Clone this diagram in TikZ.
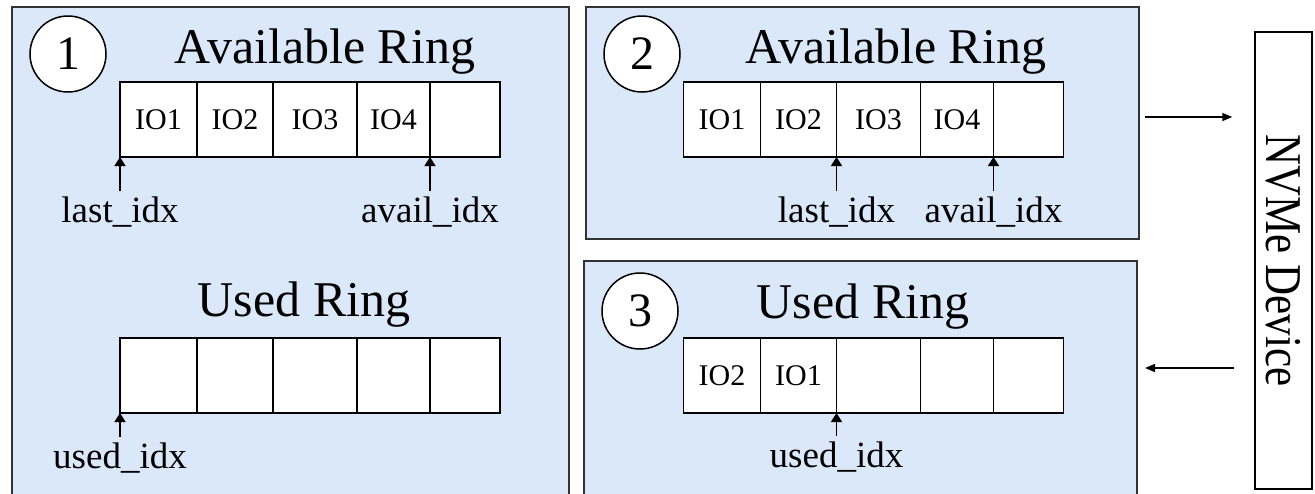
\documentclass[tikz,border=0pt]{standalone}
\usepackage{fontspec}
\setmainfont{Liberation Serif}
\usetikzlibrary{positioning,arrows.meta}
\definecolor{panelblue}{RGB}{218,232,250}
\tikzset{
  panel/.style={draw=black!80, line width=2pt, fill=panelblue, anchor=north west, inner sep=0pt, outer sep=0pt},
  cell/.style={draw, line width=1.5pt, fill=white, minimum height=75pt, inner sep=0pt, outer sep=0pt, font=\fontsize{30}{32}\selectfont},
  num/.style={draw, circle, line width=1.5pt, fill=white, minimum size=76pt, inner sep=0pt, font=\fontsize{48}{50}\selectfont},
  ttl/.style={anchor=base, inner sep=0pt, font=\fontsize{50}{52}\selectfont},
  idx/.style={anchor=base, inner sep=5pt, font=\fontsize{37}{40}\selectfont},
  dev/.style={draw, line width=1.5pt, fill=white, inner sep=0pt, font=\fontsize{43}{45}\selectfont},
  ptr/.style={-{Triangle[length=9pt,width=11pt]}, line width=1.5pt},
  flow/.style={-{Triangle[length=10pt,width=8pt]}, line width=1.5pt},
}
\begin{document}
\begin{tikzpicture}[x=1pt, y=-1pt]
  \useasboundingbox (0,0) rectangle (1315,493);
  \clip (0,0) rectangle (1315,493);
  \fill[white] (0,0) rectangle (1315,493);

  % panels
  \node[panel, minimum width=557pt, minimum height=540pt] (p1) at (12,7) {};
  \node[panel, minimum width=553pt, minimum height=232pt] (p2) at (586,7) {};
  \node[panel, minimum width=553pt, minimum height=280pt] (p3) at (584,261) {};

  % step 1
  \node[num] (n1) at (68,54) {1};
  \node[ttl] (t1) at (325,63) {Available Ring};
  \node[cell, anchor=north west, minimum width=77pt] (a1) at (120,82) {IO1};
  \node[cell, minimum width=76pt, right=0pt of a1] (a2) {IO2};
  \node[cell, minimum width=84pt, right=0pt of a2] (a3) {IO3};
  \node[cell, minimum width=73pt, right=0pt of a3] (a4) {IO4};
  \node[cell, minimum width=70pt, right=0pt of a4] (a5) {};
  \node[idx] (lastA) at (120,222) {last\_idx};
  \node[idx] (availA) at (430,222) {avail\_idx};
  \draw[ptr] (lastA.north) -- (a1.south west);
  \draw[ptr] (availA.north) -- (a4.south east);

  \node[ttl] (t2) at (304,316) {Used Ring};
  \node[cell, anchor=north west, minimum width=77pt] (u1) at (120,338) {};
  \node[cell, minimum width=76pt, right=0pt of u1] (u2) {};
  \node[cell, minimum width=84pt, right=0pt of u2] (u3) {};
  \node[cell, minimum width=73pt, right=0pt of u3] (u4) {};
  \node[cell, minimum width=70pt, right=0pt of u4] (u5) {};
  \node[idx] (usedA) at (120,468) {used\_idx};
  \draw[ptr] (usedA.north) -- (u1.south west);

  % step 2
  \node[num] (n2) at (642,54) {2};
  \node[ttl] (t3) at (896,63) {Available Ring};
  \node[cell, anchor=north west, minimum width=77pt] (b1) at (683.5,82) {IO1};
  \node[cell, minimum width=76pt, right=0pt of b1] (b2) {IO2};
  \node[cell, minimum width=84pt, right=0pt of b2] (b3) {IO3};
  \node[cell, minimum width=73pt, right=0pt of b3] (b4) {IO4};
  \node[cell, minimum width=70pt, right=0pt of b4] (b5) {};
  \node[idx] (lastB) at (836.5,222) {last\_idx};
  \node[idx] (availB) at (993.5,222) {avail\_idx};
  \draw[ptr] (lastB.north) -- (b2.south east);
  \draw[ptr] (availB.north) -- (b4.south east);

  % step 3
  \node[num] (n3) at (640,311) {3};
  \node[ttl] (t4) at (863,318) {Used Ring};
  \node[cell, anchor=north west, minimum width=77pt] (c1) at (683.5,338) {IO2};
  \node[cell, minimum width=76pt, right=0pt of c1] (c2) {IO1};
  \node[cell, minimum width=84pt, right=0pt of c2] (c3) {};
  \node[cell, minimum width=73pt, right=0pt of c3] (c4) {};
  \node[cell, minimum width=70pt, right=0pt of c4] (c5) {};
  \node[idx] (usedC) at (836.5,467) {used\_idx};
  \draw[ptr] (usedC.north) -- (c2.south east);

  % device
  \node[dev, rotate=-90, minimum width=457pt, minimum height=57pt] (nvme) at (1283.5,260.5) {\scalebox{1}[1.2]{NVMe Device}};
  \coordinate (toDev) at (0,117);
  \coordinate (fromDev) at (0,368);
  \draw[flow, shorten <=6pt, shorten >=22pt] (p2.east |- toDev) -- (nvme.south |- toDev);
  \draw[flow, shorten <=20pt, shorten >=8pt] (nvme.south |- fromDev) -- (p3.east |- fromDev);
\end{tikzpicture}
\end{document}
